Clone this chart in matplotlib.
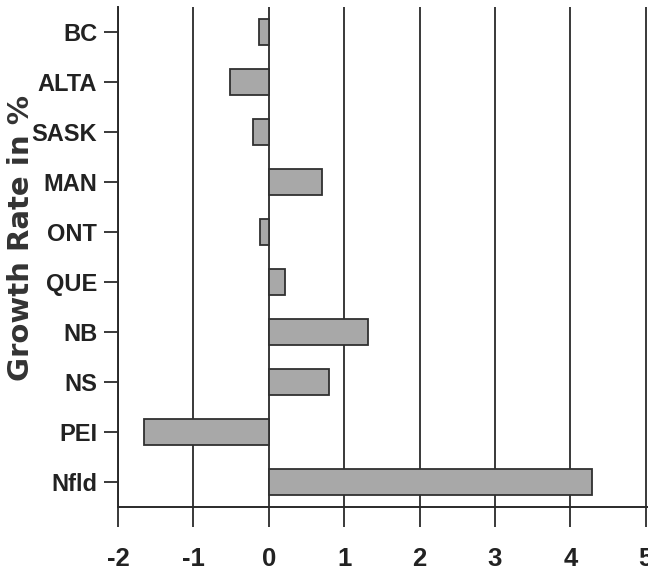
import matplotlib
matplotlib.use("Agg")
import matplotlib.pyplot as plt

provinces = ["Nfld", "PEI", "NS", "NB", "QUE", "ONT", "MAN", "SASK", "ALTA", "BC"]
growth = [4.28, -1.66, 0.80, 1.31, 0.21, -0.12, 0.70, -0.21, -0.52, -0.13]
xticks = [-2, -1, 0, 1, 2, 3, 4, 5]
ylabel = "Growth Rate in %"

W, H = 648, 573
fig = plt.figure(figsize=(W / 100, H / 100), dpi=100)
left_px, right_px, top_px, bot_px = 118, 648, 7, 507
ax = fig.add_axes([left_px / W, (H - bot_px) / H, (right_px - left_px) / W, (bot_px - top_px) / H])

px_per_unit = 75.4
ax.set_xlim(-2, -2 + (right_px - left_px) / px_per_unit)
ax.set_ylim(-0.5, len(provinces) - 0.5)

ink = "#2a2a2a"
for x in xticks:
    ax.axvline(x, color=ink, lw=1.3, zorder=1)

ypos = list(range(len(provinces)))
ax.barh(ypos, growth, height=0.52, color="#a8a8a8", edgecolor="#303030",
        linewidth=1.3, zorder=3)

for s in ["top", "right"]:
    ax.spines[s].set_visible(False)
for s in ["left", "bottom"]:
    ax.spines[s].set_color(ink)
    ax.spines[s].set_linewidth(1.4)

narrow = ["Liberation Sans Narrow", "Liberation Sans", "DejaVu Sans"]
ax.set_yticks(ypos)
ax.set_yticklabels(provinces, fontfamily=narrow, fontweight="bold", fontsize=17, color="#222222")
ax.set_xticks(xticks)
ax.set_xticklabels([str(v) for v in xticks], fontfamily=narrow, fontweight="bold", fontsize=18.5, color="#222222")
ax.tick_params(axis="y", direction="out", length=10, width=1.3, color=ink, pad=5)
ax.tick_params(axis="x", direction="out", length=14.4, width=1.3, color=ink, pad=14.5)

fig.text(21 / W, 1 - 238 / H, ylabel, rotation=90, ha="center", va="center",
         fontfamily="DejaVu Sans", fontweight="bold", fontsize=21, color="#333333")

fig.savefig("out.png", dpi=100, facecolor="white")
